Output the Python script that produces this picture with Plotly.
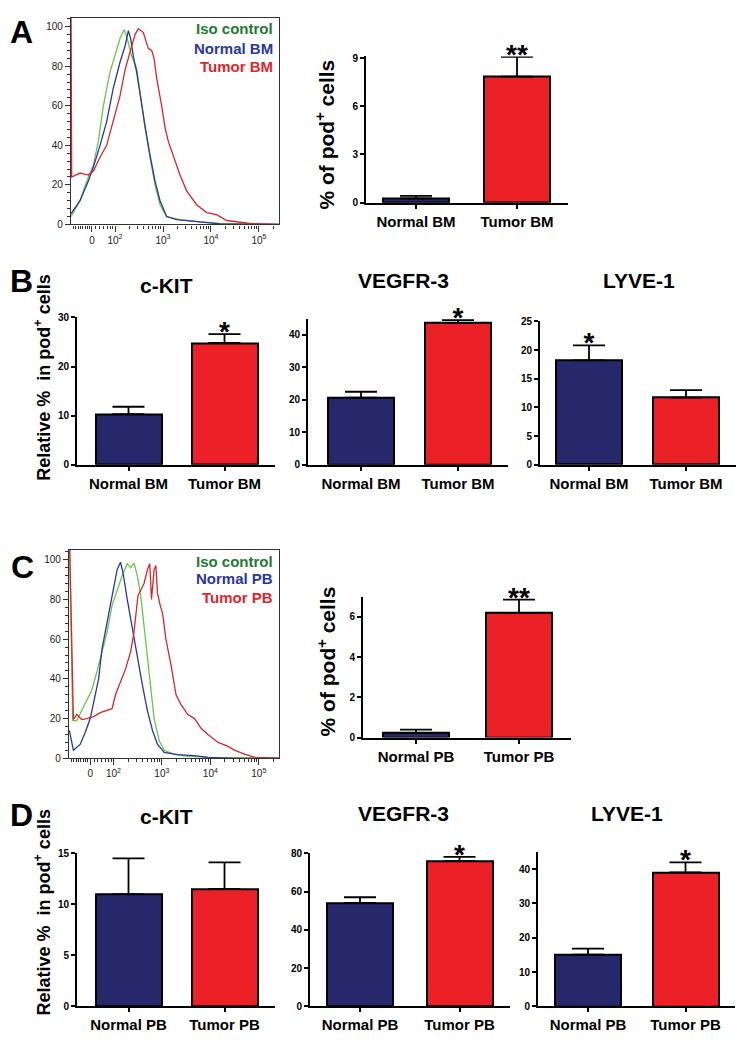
import numpy as np
import plotly.graph_objects as go

W, H = 747, 1050
FONT = "Liberation Sans, Arial, sans-serif"
NAVY = "#27286c"
RED = "#ec2128"

# ---------------- data ----------------
groups_bm = ["Normal BM", "Tumor BM"]
groups_pb = ["Normal PB", "Tumor PB"]

# flow histograms, x in display decades (2 = 10^2, 3 = 10^3 ...), y = % of max
a_iso_x = [1.083, 1.271, 1.444, 1.549, 1.653, 1.757, 1.896, 2.000, 2.104, 2.188, 2.243, 2.347,
           2.451, 2.521, 2.625, 2.729, 2.833, 2.938, 3.076, 3.354, 3.771, 4.188, 5.424]
a_iso_y = [4, 12, 24, 30, 42, 60, 77, 85, 94, 98.5, 95, 85, 79, 67, 49, 34, 20, 10, 4, 2.5, 1.3, 0.5, 0]
a_norm_x = [1.083, 1.271, 1.444, 1.549, 1.688, 1.826, 1.965, 2.104, 2.208, 2.278, 2.326, 2.382,
            2.451, 2.521, 2.625, 2.729, 2.833, 2.938, 3.076, 3.285, 3.563, 3.910, 4.188, 5.424]
a_norm_y = [5.5, 12, 22, 29, 40, 52, 69, 82, 90, 98, 94, 85, 77, 67, 50, 35, 22, 12, 4, 2.5, 1.8, 0.8, 0.3, 0]
a_tum_x = [1.083, 1.097, 1.271, 1.444, 1.549, 1.688, 1.826, 1.965, 2.104, 2.208, 2.313, 2.417, 2.486,
           2.590, 2.694, 2.764, 2.813, 2.868, 2.972, 3.042, 3.111, 3.215, 3.354, 3.493, 3.701, 3.910,
           4.118, 4.326, 4.813, 5.424]
a_tum_y = [115, 24, 26, 25, 27, 34, 40, 52, 65, 78, 87, 96, 99, 97, 89, 88, 84, 74, 60, 49, 42, 35,
           25, 17, 10, 6, 5, 2, 0.5, 0]

c_iso_x = [1.090, 1.160, 1.243, 1.347, 1.451, 1.556, 1.660, 1.764, 1.868, 1.972, 2.076, 2.181, 2.285,
           2.354, 2.424, 2.493, 2.563, 2.632, 2.736, 2.840, 2.944, 3.049, 3.257, 3.535, 3.951, 5.465]
c_iso_y = [115, 19, 19, 24, 29, 34.5, 43.6, 53.6, 63.5, 77, 85, 92, 98, 96, 98.3, 92, 82, 67, 43.6,
           20, 9, 4, 2, 1, 0.5, 0]
c_norm_x = [1.090, 1.174, 1.313, 1.417, 1.521, 1.625, 1.694, 1.764, 1.868, 1.972, 2.076, 2.146, 2.201,
            2.285, 2.389, 2.493, 2.597, 2.701, 2.806, 2.910, 3.049, 3.326, 3.674, 3.951, 4.507, 5.465]
c_norm_y = [14, 4, 7, 13, 20, 32, 40, 55, 68.5, 83, 95, 98.7, 93, 80, 65, 52, 37, 24, 14, 7, 3, 1.8,
            1.3, 0.5, 0, 0]
c_tum_x = [1.090, 1.174, 1.243, 1.347, 1.451, 1.590, 1.729, 1.868, 1.972, 2.042, 2.146, 2.250, 2.354,
           2.424, 2.507, 2.563, 2.632, 2.701, 2.750, 2.785, 2.840, 2.875, 2.910, 2.965, 3.014, 3.083,
           3.188, 3.292, 3.396, 3.535, 3.674, 3.813, 3.951, 4.160, 4.368, 4.507, 4.715, 4.924, 5.465]
c_tum_y = [115, 19.6, 22, 19.5, 20, 21, 23, 24, 25, 32, 39, 45, 53.6, 63.5, 82, 85, 88, 95, 98, 80,
           95, 97, 83, 77, 73, 60, 47, 32, 27, 22, 20, 15, 12, 8, 6, 4, 2, 0.5, 0]

hist_tickvals = [1.52, 2, 3, 4, 5]
hist_ticktext = ["0", "10<sup>2</sup>", "10<sup>3</sup>", "10<sup>4</sup>", "10<sup>5</sup>"]

# bar panels: mean and SEM
a_pod = [0.27, 7.84]
a_pod_err = [0.16, 1.23]
b_ckit = [10.3, 24.8]
b_ckit_err = [1.5, 1.8]
b_vegfr3 = [20.7, 43.7]
b_vegfr3_err = [1.8, 0.9]
b_lyve1 = [18.2, 11.7]
b_lyve1_err = [2.6, 1.3]
c_pod = [0.23, 6.2]
c_pod_err = [0.16, 0.66]
d_ckit = [11.0, 11.5]
d_ckit_err = [3.5, 2.6]
d_vegfr3 = [54.0, 75.9]
d_vegfr3_err = [3.0, 2.2]
d_lyve1 = [15.1, 39.0]
d_lyve1_err = [1.7, 2.9]

fig = go.Figure()
layout = {}
annotations = []


def px_x(px):
    return px / W


def px_y(py):
    return 1 - py / H


def add_hist(n, xs_ys_cols, left, right, top, zero, ymax, legend, leg_y):
    xa, ya = f"x{n}", f"y{n}"
    for (xs, ys, col) in xs_ys_cols:
        fig.add_trace(go.Scatter(x=xs, y=ys, mode="lines", line=dict(color=col, width=1.3),
                                 xaxis=xa, yaxis=ya, showlegend=False))
    minor_x = [1.13, 1.18, 1.23, 1.28, 1.33, 1.38, 1.43, 1.47, 1.60, 1.68, 1.76, 1.84, 1.90, 1.95]
    minor_x += [d + np.log10(k) for d in (2, 3, 4, 5) for k in range(2, 10) if d + np.log10(k) < 5.4]
    layout[f"xaxis{n}"] = dict(
        domain=[px_x(left), px_x(right)], range=[1.083, 5.417], anchor=ya,
        tickmode="array", tickvals=hist_tickvals, ticktext=hist_ticktext,
        showline=True, mirror=True, linecolor="#333", linewidth=1.2,
        ticks="outside", ticklen=6, tickcolor="#333", showgrid=False, zeroline=False,
        tickfont=dict(family=FONT, size=10, color="#222"),
        minor=dict(tickvals=minor_x, ticks="outside", ticklen=3, tickcolor="#333"))
    layout[f"yaxis{n}"] = dict(
        domain=[px_y(zero), px_y(top)], range=[0, ymax], anchor=xa,
        tickmode="linear", tick0=0, dtick=20,
        showline=True, mirror=True, linecolor="#333", linewidth=1.2,
        ticks="outside", ticklen=5, tickcolor="#333", showgrid=False, zeroline=False,
        tickfont=dict(family=FONT, size=10, color="#222"),
        minor=dict(dtick=4, ticks="outside", ticklen=3, tickcolor="#333"))
    for (txt, col), yy in zip(legend, leg_y):
        annotations.append(dict(text=txt, x=px_x(275), y=px_y(yy), xref="paper", yref="paper",
                                xanchor="right", yanchor="middle", showarrow=False,
                                font=dict(family=FONT, size=15, color=col, weight="bold")))


def add_bar(n, cats, means, errs, stars, left, c0, c1, right, zero, top, ymax, dtick):
    xa, ya = f"x{n}", f"y{n}"
    s = c1 - c0
    fig.add_trace(go.Bar(
        x=cats, y=means, width=66 / s,
        marker=dict(color=[NAVY, RED], line=dict(color="black", width=2)),
        error_y=dict(type="data", array=errs, arrayminus=[0, 0], symmetric=False,
                     color="black", thickness=1.8, width=16),
        xaxis=xa, yaxis=ya, cliponaxis=False, showlegend=False))
    # significance stars, drawn as text marks just above the error caps
    tops = [m + e for m, e in zip(means, errs)]
    fig.add_trace(go.Scatter(
        x=cats, y=tops, text=stars, mode="text", textposition="middle center",
        textfont=dict(family=FONT, size=28, color="black", weight="bold"),
        xaxis=xa, yaxis=ya, cliponaxis=False, showlegend=False, hoverinfo="skip"))
    layout[f"xaxis{n}"] = dict(
        domain=[px_x(left), px_x(right)], range=[-(c0 - left) / s, 1 + (right - c1) / s],
        anchor=ya, type="category", showline=True, linecolor="black", linewidth=2,
        ticks="outside", ticklen=4, tickwidth=1.5, tickcolor="black", showgrid=False,
        tickfont=dict(family=FONT, size=15, color="black", weight="bold"))
    layout[f"yaxis{n}"] = dict(
        domain=[px_y(zero), px_y(top)], range=[0, ymax], anchor=xa,
        tickmode="linear", tick0=0, dtick=dtick,
        showline=True, linecolor="black", linewidth=2, zeroline=False, showgrid=False,
        ticks="outside", ticklen=4, tickwidth=1.5, tickcolor="black",
        tickfont=dict(family=FONT, size=10, color="black", weight="bold"))


def add_text(txt, x, y, size, angle=0):
    annotations.append(dict(text=txt, x=px_x(x), y=px_y(y), xref="paper", yref="paper",
                            xanchor="center", yanchor="middle", showarrow=False, textangle=angle,
                            font=dict(family=FONT, size=size, color="black", weight="bold")))


ISO, NORM, TUM = "#66c847", "#2a36a0", "#d8262a"

# A
add_hist(1, [(a_iso_x, a_iso_y, ISO), (a_norm_x, a_norm_y, NORM), (a_tum_x, a_tum_y, TUM)],
         71, 279, 11.7, 221, 104.6,
         [("Iso control", "#1f7a33"), ("Normal BM", "#2a36a0"), ("Tumor BM", "#e0262b")], [23, 43, 61])
add_bar(2, groups_bm, a_pod, a_pod_err, ["", "**"], 366, 416, 517, 568, 199, 51, 9.1, 3)

# B
add_bar(3, groups_bm, b_ckit, b_ckit_err, ["", "*"], 77, 128.5, 224.5, 275, 464, 315, 30, 10)
add_bar(4, groups_bm, b_vegfr3, b_vegfr3_err, ["", "*"], 308, 361, 458, 508, 464, 316.4, 45, 10)
add_bar(5, groups_bm, b_lyve1, b_lyve1_err, ["*", ""], 540, 589, 686, 736, 464, 319, 25, 5)

# C
add_hist(6, [(c_iso_x, c_iso_y, ISO), (c_norm_x, c_norm_y, NORM), (c_tum_x, c_tum_y, TUM)],
         69, 279, 550, 761, 105,
         [("Iso control", "#1f7a33"), ("Normal PB", "#2a36a0"), ("Tumor PB", "#e0262b")], [562, 579, 598])
add_bar(7, groups_pb, c_pod, c_pod_err, ["", "**"], 363, 416, 519, 571, 740, 597.7, 7, 2)

# D
add_bar(8, groups_pb, d_ckit, d_ckit_err, ["", ""], 77, 128.5, 224.5, 275, 1012, 857, 15, 5)
add_bar(9, groups_pb, d_vegfr3, d_vegfr3_err, ["", "*"], 310, 360, 459.5, 510, 1012, 857, 80, 20)
add_bar(10, groups_pb, d_lyve1, d_lyve1_err, ["", "*"], 538, 588, 685.5, 735, 1012, 855.6, 45, 10)

# panel letters, titles, y titles
for letter, x, y in [("A", 21, 26), ("B", 21, 278), ("C", 22, 567), ("D", 21, 818)]:
    add_text(letter, x, y, 32)
for title, x, y in [("c-KIT", 166, 283), ("VEGFR-3", 404, 278), ("LYVE-1", 639, 278),
                    ("c-KIT", 166, 820), ("VEGFR-3", 404, 817), ("LYVE-1", 627, 817)]:
    add_text(title, x, y, 21)
add_text("% of pod<sup>+</sup> cells", 325, 130, 21, -90)
add_text("% of pod<sup>+</sup> cells", 327, 663, 21, -90)
add_text("Relative %  in pod<sup>+</sup> cells", 43, 376, 18, -90)
add_text("Relative %  in pod<sup>+</sup> cells", 43, 917, 18, -90)

fig.update_layout(width=W, height=H, margin=dict(l=0, r=0, t=0, b=0),
                  paper_bgcolor="white", plot_bgcolor="white",
                  annotations=annotations, bargap=0, **layout)
fig.write_html("out.html", config={"displayModeBar": False},
               post_script="document.body.style.margin='0';")
